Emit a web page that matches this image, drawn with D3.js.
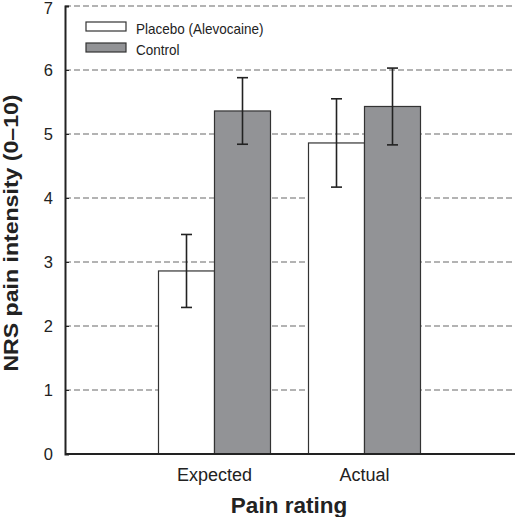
<!DOCTYPE html>
<html><head><meta charset="utf-8">
<script src="https://cdn.jsdelivr.net/npm/d3@7"></script>
<style>body{margin:0;background:#fff}svg{display:block;font-family:"Liberation Sans",Arial,sans-serif}</style>
</head><body>
<svg id="c" width="515" height="517"></svg>
<script>
const categories = ["Expected", "Actual"];
const seriesNames = ["Placebo (Alevocaine)", "Control"];
const placeboMeans = [2.86, 4.86];
const placeboErr = [0.57, 0.69];
const controlMeans = [5.36, 5.43];
const controlErr = [0.52, 0.60];
const yTicks = [0, 1, 2, 3, 4, 5, 6, 7];
const colors = ["#ffffff", "#929396"];

(function () {
const svg = d3.select("#c");
const mLeft = 65, mRight = 515, mTop = 6, mBottom = 454;
const y = d3.scaleLinear().domain([0, 7]).range([mBottom, mTop]);
const x0 = d3.scaleBand().domain(categories).range([139.5, 439.5]).padding(0);
const x1 = d3.scaleBand().domain(seriesNames).range([19, 131]).padding(0);

svg.append("g").selectAll("line").data(yTicks.filter(d => d > 0)).join("line")
  .attr("x1", mLeft).attr("x2", mRight)
  .attr("y1", d => y(d)).attr("y2", d => y(d))
  .attr("stroke", "#9a9a9a").attr("stroke-width", 1.3).attr("stroke-dasharray", "6,3");

const data = [];
categories.forEach((c, i) => {
  data.push({cat: c, s: seriesNames[0], v: placeboMeans[i], e: placeboErr[i], col: colors[0]});
  data.push({cat: c, s: seriesNames[1], v: controlMeans[i], e: controlErr[i], col: colors[1]});
});

svg.append("g").selectAll("rect").data(data).join("rect")
  .attr("x", d => x0(d.cat) + x1(d.s))
  .attr("width", x1.bandwidth())
  .attr("y", d => y(d.v))
  .attr("height", d => y(0) - y(d.v))
  .attr("fill", d => d.col).attr("stroke", "#333").attr("stroke-width", 1.2);

const eb = svg.append("g").attr("stroke", "#222").attr("stroke-width", 1.6);
data.forEach(d => {
  const cx = x0(d.cat) + x1(d.s) + x1.bandwidth() / 2;
  eb.append("line").attr("x1", cx).attr("x2", cx).attr("y1", y(d.v + d.e)).attr("y2", y(d.v - d.e));
  eb.append("line").attr("x1", cx - 5.5).attr("x2", cx + 5.5).attr("y1", y(d.v + d.e)).attr("y2", y(d.v + d.e));
  eb.append("line").attr("x1", cx - 5.5).attr("x2", cx + 5.5).attr("y1", y(d.v - d.e)).attr("y2", y(d.v - d.e));
});

const ya = svg.append("g").attr("transform", `translate(${mLeft},0)`)
  .call(d3.axisLeft(y).tickValues(yTicks).tickFormat(d3.format("d")).tickSize(-4).tickPadding(12));
ya.select(".domain").attr("stroke", "#222").attr("stroke-width", 2);
ya.selectAll(".tick line").attr("stroke", "#222");
ya.selectAll(".tick text").attr("font-size", 16.5).attr("fill", "#222")
  .attr("font-family", "Liberation Sans, Arial, sans-serif")
  .attr("dy", d => d === 7 ? "0.45em" : "0.34em");

const xa = svg.append("g").attr("transform", `translate(0,${mBottom})`)
  .call(d3.axisBottom(x0).tickSize(0).tickPadding(14));
xa.select(".domain").attr("d", `M${mLeft},0H${mRight}`).attr("stroke", "#222").attr("stroke-width", 2);
xa.selectAll(".tick text").attr("font-size", 18).attr("fill", "#222")
  .attr("font-family", "Liberation Sans, Arial, sans-serif");

svg.append("text").attr("x", 289).attr("y", 513).attr("text-anchor", "middle")
  .attr("font-size", 22.5).attr("font-weight", "bold").attr("fill", "#222").text("Pain rating");
svg.append("text").attr("transform", `translate(18,233) rotate(-90) scale(1.1,1)`).attr("text-anchor", "middle")
  .attr("font-size", 21).attr("font-weight", "bold").attr("fill", "#222").text("NRS pain intensity (0–10)");

const lg = svg.append("g");
seriesNames.forEach((s, i) => {
  lg.append("rect").attr("x", 86).attr("y", 22 + i * 21).attr("width", 40).attr("height", 9)
    .attr("fill", colors[i]).attr("stroke", "#333").attr("stroke-width", 1.2);
  lg.append("text").attr("transform", `translate(136,${34 + i * 21}) scale(1,1.12)`)
    .attr("font-size", 13.5).attr("fill", "#222").text(s);
});
})();
</script>
</body></html>
